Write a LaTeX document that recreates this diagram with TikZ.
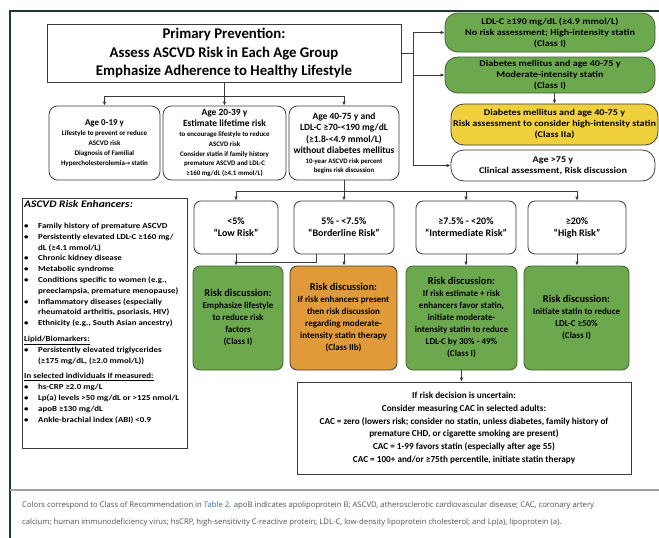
\documentclass[tikz,border=0pt]{standalone}
\usepackage{fontspec}
\setmainfont{Carlito}
\newfontfamily\widefont[FakeStretch=1.15]{Carlito}
\newfontfamily\capfont{Open Sans}
\newfontfamily\symfont{DejaVu Sans}
\usetikzlibrary{arrows.meta,positioning}
\definecolor{frame}{HTML}{1E3A2A}
\definecolor{line}{HTML}{3A3A3A}
\definecolor{classOne}{HTML}{6CA94E}
\definecolor{classTwoA}{HTML}{F0D03C}
\definecolor{classTwoB}{HTML}{E09A3A}
\definecolor{greenEdge}{HTML}{3E5E2C}
\definecolor{muted}{HTML}{505050}
\definecolor{rule}{HTML}{A0A0A0}
\definecolor{link}{HTML}{2F6DB5}
\newcommand\fs[2]{\fontsize{#1}{#2}\selectfont}

\begin{document}
\begin{tikzpicture}[x=1pt,y=-1pt,
  box/.style={draw=line,line width=0.8pt,align=center,inner sep=1pt,font=\bfseries},
  agebox/.style={box,align=flush center,rounded corners=3mm,minimum height=74pt},
  pill/.style={box,rounded corners=4.5mm,font=\widefont\fs{8.8}{11}\bfseries},
  riskbox/.style={box,rounded corners=2.5mm,minimum height=53pt,font=\fs{10}{12}\bfseries},
  talk/.style={box,align=flush center,draw=greenEdge,fill=classOne,rounded corners=2.5mm,minimum height=104pt},
  flow/.style={draw=line,line width=0.8pt,-{Latex[length=4pt,width=3.6pt]}},
  wire/.style={draw=line,line width=0.8pt}
]
  \useasboundingbox (0,0) rectangle (659,538);
  \draw[frame,line width=2pt] (10,538) -- (10,11) -- (659,11);
  \draw[rule,line width=1.2pt] (10,490) -- (659,490);

  % top: title and age groups
  \node[box,line width=1pt,minimum width=354pt,minimum height=58pt,font=\fs{14.8}{18.5}\bfseries] (head) at (224,53)
    {Primary Prevention:\\Assess ASCVD Risk in Each Age Group\\Emphasize Adherence to Healthy Lifestyle};
  \node[agebox,minimum width=111pt,text width=108pt] (young) at (104.5,143)
    {{\fs{9}{10.5}Age 0-19 y\par}{\fs{7}{10}Lifestyle to prevent or reduce\\ASCVD risk\\Diagnosis of Familial\\Hypercholesterolemia{\symfont\fs{6}{10}→} statin\par}};
  \node[agebox,minimum width=123pt,text width=120pt] (adult) at (224.5,143)
    {{\fs{9.5}{11.5}Age 20-39 y\\Estimate lifetime risk\par}{\fs{6.9}{9.8}to encourage lifestyle to reduce\\ASCVD risk\\Consider statin if family history\\premature ASCVD and LDL-C\\≥160 mg/dL (≥4.1 mmol/L)\par}};
  \node[agebox,minimum width=110pt,text width=108pt] (older) at (344,143)
    {{\fs{9.5}{11.5}Age 40-75 y and\\LDL-C ≥70-<190 mg/dL\\(≥1.8-<4.9 mmol/L)\\without diabetes mellitus\par}{\fs{6.8}{9.5}10-year ASCVD risk percent\\begins risk discussion\par}};

  % right column
  \node[pill,fill=classOne,draw=greenEdge,minimum width=210pt,minimum height=39pt] (ldl) at (550,32.5)
    {LDL-C ≥190 mg/dL (≥4.9 mmol/L)\\No risk assessment; High-intensity statin\\(Class I)};
  \node[pill,fill=classOne,draw=greenEdge,minimum width=210pt,minimum height=36pt] (dm) at (550,75)
    {Diabetes mellitus and age 40-75 y\\Moderate-intensity statin\\(Class I)};
  \node[pill,fill=classTwoA,minimum width=207pt,minimum height=41pt] (dmrisk) at (554.5,124.5)
    {Diabetes mellitus and age 40-75 y\\Risk assessment to consider high-intensity statin\\(Class IIa)};
  \node[pill,minimum width=204pt,minimum height=31pt] (elder) at (553,165.5)
    {Age >75 y\\Clinical assessment, Risk discussion};

  % risk categories
  \node[riskbox,minimum width=84pt] (low) at (236,227.5) {<5\%\\“Low Risk”};
  \node[riskbox,minimum width=100pt] (border) at (344,227.5) {5\% - <7.5\%\\“Borderline Risk”};
  \node[riskbox,minimum width=100pt] (inter) at (466,227.5) {≥7.5\% - <20\%\\“Intermediate Risk”};
  \node[riskbox,minimum width=98pt] (high) at (577,227.5) {≥20\%\\“High Risk”};

  \node[talk,minimum width=90pt,text width=88pt] (lowtalk) at (238,318)
    {{\fs{10.4}{12}Risk discussion:\par}{\fs{9}{12}Emphasize lifestyle\\to reduce risk\\factors\\(Class I)\par}};
  \node[talk,fill=classTwoB,draw=line,minimum width=107pt,text width=105pt] (bordertalk) at (343.5,318)
    {{\fs{10.4}{12}Risk discussion:\par}{\fs{9}{12}If risk enhancers present\\then risk discussion\\regarding moderate-\\intensity statin therapy\\(Class IIb)\par}};
  \node[talk,minimum width=111pt,text width=109pt] (intertalk) at (461.5,318)
    {{\fs{10.4}{12}Risk discussion:\par}{\fs{9}{12}If risk estimate + risk\\enhancers favor statin,\\initiate moderate-\\intensity statin to reduce\\LDL-C by 30\% - 49\%\\(Class I)\par}};
  \node[talk,minimum width=105pt,text width=103pt] (hightalk) at (576.5,318)
    {{\fs{10.4}{12}Risk discussion:\par}{\fs{9}{12}Initiate statin to reduce\\LDL-C ≥50\%\\(Class I)\par}};

  \node[box,minimum width=334pt,minimum height=92pt,font=\fs{9.2}{12.8}\bfseries] (cac) at (464,428)
    {If risk decision is uncertain:\\Consider measuring CAC in selected adults:\\CAC = zero (lowers risk; consider no statin, unless diabetes, family history of\\premature CHD, or cigarette smoking are present)\\CAC = 1-99 favors statin (especially after age 55)\\CAC = 100+ and/or ≥75th percentile, initiate statin therapy};

  % risk enhancers
  \node[draw=line,line width=0.8pt,minimum width=165pt,minimum height=250pt,anchor=north west,inner sep=0pt] (enh) at (22,198) {};
  \node[anchor=north west,inner sep=0pt,font=\widefont\fs{7.7}{10.8}\bfseries] (enhtext) at (24,200) {%
    \begin{tabular}{@{}p{14pt}@{}l@{}}
      \multicolumn{2}{@{}l@{}}{\fs{10}{12}\itshape ASCVD Risk Enhancers:}\\[10pt]
      \textbullet & Family history of premature ASCVD\\
      \textbullet & Persistently elevated LDL-C ≥160 mg/\\
                  & dL (≥4.1 mmol/L)\\
      \textbullet & Chronic kidney disease\\
      \textbullet & Metabolic syndrome\\
      \textbullet & Conditions specific to women (e.g.,\\
                  & preeclampsia, premature menopause)\\
      \textbullet & Inflammatory diseases (especially\\
                  & rheumatoid arthritis, psoriasis, HIV)\\
      \textbullet & Ethnicity (e.g., South Asian ancestry)\\[5pt]
      \multicolumn{2}{@{}l@{}}{\underline{Lipid/Biomarkers:}}\\
      \textbullet & Persistently elevated triglycerides\\
                  & (≥175 mg/dL, (≥2.0 mmol/L))\\[5pt]
      \multicolumn{2}{@{}l@{}}{\underline{In selected individuals if measured:}}\\
      \textbullet & hs-CRP ≥2.0 mg/L\\
      \textbullet & Lp(a) levels >50 mg/dL or >125 nmol/L\\
      \textbullet & apoB ≥130 mg/dL\\
      \textbullet & Ankle-brachial index (ABI) <0.9
    \end{tabular}};

  % caption
  \node[anchor=west,inner sep=0pt,text=muted,font=\capfont\fs{7.7}{10}] (cap) at (22,505)
    {Colors correspond to Class of Recommendation in \textcolor{link}{Table 2}. apoB indicates apolipoprotein B; ASCVD, atherosclerotic cardiovascular disease; CAC, coronary artery};
  \node[anchor=west,inner sep=0pt,text=muted,font=\capfont\fs{7.7}{10}] (capb) at (22,522)
    {calcium; human immunodeficiency virus; hsCRP, high-sensitivity C-reactive protein; LDL-C, low-density lipoprotein cholesterol; and Lp(a), lipoprotein (a).};

  % connectors
  \coordinate (hub) at (224,96);
  \draw[wire] (head.south) -- (hub);
  \draw[wire] (young.north |- hub) -- (older.north |- hub);
  \foreach \n in {young,adult,older}
    \draw[flow] (\n.north |- hub) -- (\n.north);

  \coordinate (spine) at (413,53);
  \draw[wire] (head.east) -- (spine);
  \draw[wire] (spine |- ldl.west) -- (spine |- elder.west);
  \foreach \n in {ldl,dm,elder}
    \draw[flow] (spine |- \n.west) -- (\n.west);
  \draw[flow] (dmrisk.north |- dm.south) -- (dmrisk.north);

  \coordinate (fork) at (344,191);
  \draw[wire] (older.south) -- (fork);
  \draw[wire] (low.north |- fork) -- (high.north |- fork);
  \foreach \n in {low,border,inter,high}
    \draw[flow] (\n.north |- fork) -- (\n.north);
  \foreach \n in {low,border,inter,high}
    \draw[flow] (\n.south) -- (\n.south |- \n talk.north);

  \coordinate (kink) at (316,262);
  \draw[wire] (border.south -| kink) -- (kink) -- (kink -| low.south);
  \draw[flow] (intertalk.south) -- (intertalk.south |- cac.north);
\end{tikzpicture}
\end{document}
